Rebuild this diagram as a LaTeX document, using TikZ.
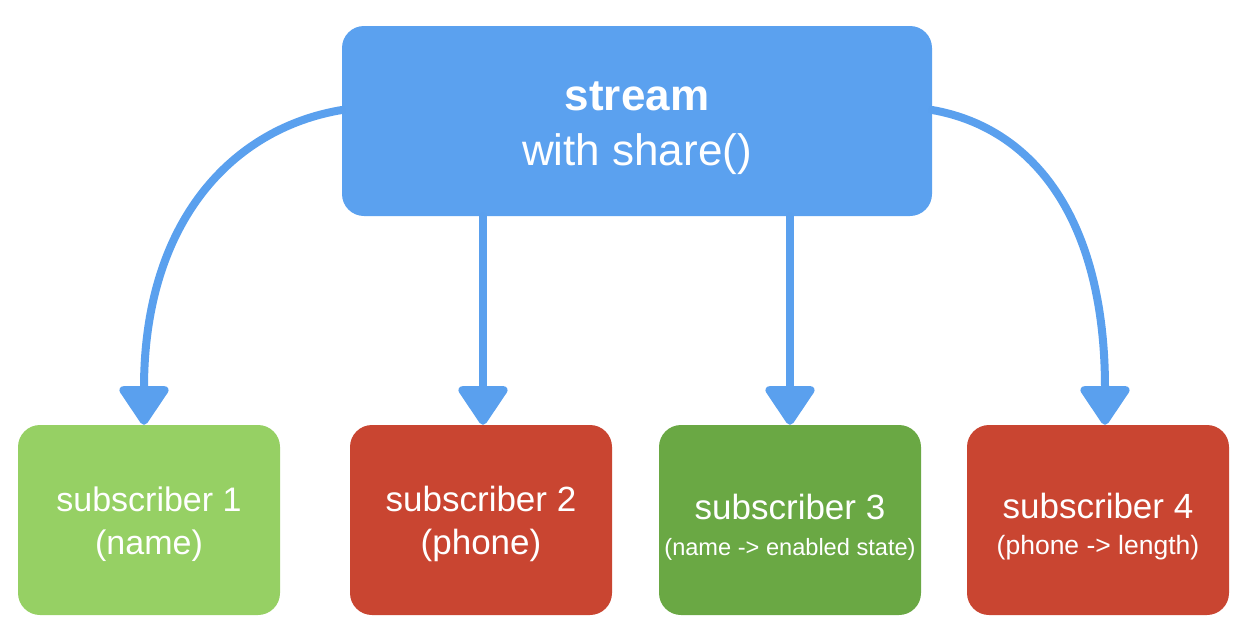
\documentclass[tikz,border=0pt]{standalone}
\usepackage{fontspec}
\setmainfont{Liberation Sans}
\usetikzlibrary{arrows.meta}
\definecolor{topblue}{RGB}{91,161,239}
\definecolor{arrowblue}{RGB}{90,160,238}
\definecolor{lightgreen}{RGB}{150,208,100}
\definecolor{darkgreen}{RGB}{106,168,68}
\definecolor{subred}{RGB}{201,69,49}
\begin{document}
\begin{tikzpicture}[x=1pt,y=-1pt,
  box/.style={rounded corners=22pt, text=white, align=center, inner sep=0pt},
  subbox/.style={box, minimum width=262pt, minimum height=190pt},
  flow/.style={draw=arrowblue, line width=8pt, line cap=round,
    -{Triangle[width=54pt,length=42pt,round]}}]
\useasboundingbox (0,0) rectangle (1243,632);
\node[box, fill=topblue, minimum width=590pt, minimum height=190pt,
  font=\fontsize{44}{55}\selectfont] (top) at (637,121)
  {\rule{0pt}{44pt}\textbf{stream}\\with share()};
\node[subbox, fill=lightgreen, font=\fontsize{34}{43}\selectfont] (s1) at (149,520)
  {\rule{0pt}{33pt}subscriber 1\\(name)};
\node[subbox, fill=subred, font=\fontsize{35}{43}\selectfont] (s2) at (481,520)
  {\rule{0pt}{33pt}subscriber 2\\(phone)};
\node[subbox, fill=darkgreen, font=\fontsize{35}{36}\selectfont] (s3) at (790,520)
  {\rule{0pt}{39pt}subscriber 3\\{\fontsize{23.6}{36}\selectfont (name -> enabled state)}};
\node[subbox, fill=subred, font=\fontsize{35}{36}\selectfont] (s4) at (1098,520)
  {\rule{0pt}{39pt}subscriber 4\\{\fontsize{26.5}{36}\selectfont (phone -> length)}};
\draw[flow] ([yshift=11pt]top.west) .. controls +(-108,18) and +(0,-205) .. ([xshift=-5pt]s1.north);
\draw[flow] ([xshift=2pt]s2.north |- top.south) -- ([xshift=2pt]s2.north);
\draw[flow] (s3.north |- top.south) -- (s3.north);
\draw[flow] ([yshift=11pt]top.east) .. controls +(102,18) and +(0,-205) .. ([xshift=7pt]s4.north);
\end{tikzpicture}
\end{document}
